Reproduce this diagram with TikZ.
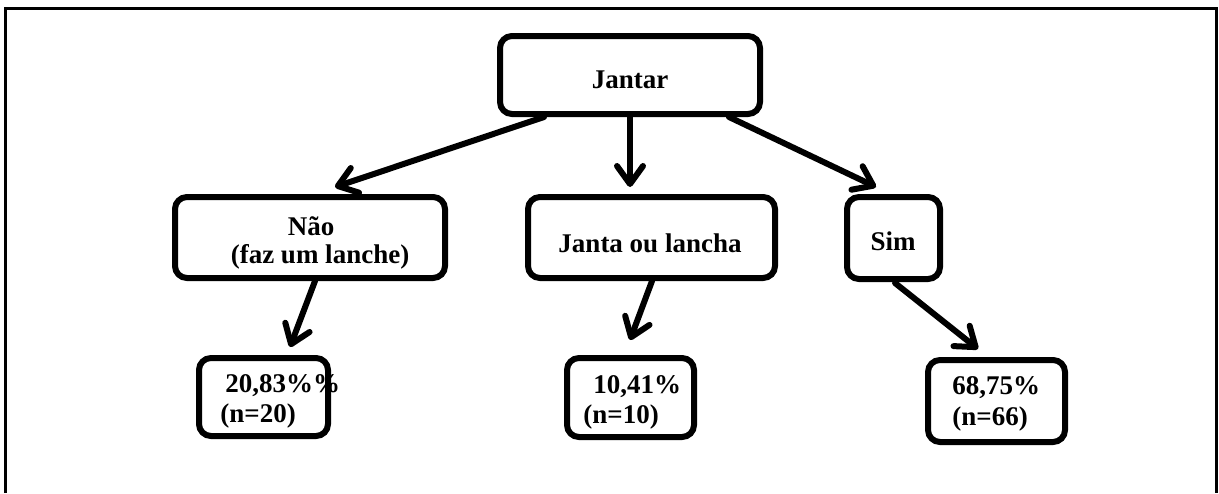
\documentclass[tikz,border=0pt]{standalone}
\usepackage{fontspec}
\setmainfont{Liberation Serif}
\usetikzlibrary{arrows.meta,fit,calc}
\begin{document}
\begin{tikzpicture}[x=0.5pt,y=-0.5pt,
  box/.style={draw, line width=3pt, rounded corners=6pt, inner sep=0pt},
  lbl/.style={font=\fontsize{13.5}{15}\selectfont\bfseries, inner sep=0pt, anchor=base},
  lblw/.style={lbl, anchor=base west},
  link/.style={line width=3pt, line cap=round,
    -{Straight Barb[length=9pt,width=13pt,round]}}]
\useasboundingbox (0,0) rectangle (1219,493);
% outer frame (open at the bottom)
\draw[line width=1.5pt] (5.5,493) -- (5.5,8.5) -- (1216.5,8.5) -- (1216.5,493);

% boxes
\node[box, fit={(500,36) (760,114)}] (jantar) {};
\node[box, fit={(175,197) (445,278)}] (nao) {};
\node[box, fit={(528,197) (775,278)}] (janta) {};
\node[box, fit={(847,197) (940,279)}] (sim) {};
\node[box, fit={(199,358) (328,436)}] (leafA) {};
\node[box, fit={(567,358) (694,437)}] (leafB) {};
\node[box, fit={(928,360) (1065,442)}] (leafC) {};

% labels
\node[lbl] (tjantar) at (630,88) {Jantar};
\node[lbl] (tnao) at (311,235) {Não};
\node[lbl] (tlanche) at (320,263) {(faz um lanche)};
\node[lbl] (tjanta) at (650,252) {Janta ou lancha};
\node[lbl] (tsim) at (893,250) {Sim};
\node[lblw] (pA) at (225,392) {20,83\%\%};
\node[lblw] (nA) at (220,422) {(n=20)};
\node[lblw] (pB) at (593,393) {10,41\%};
\node[lblw] (nB) at (583,423) {(n=10)};
\node[lblw] (pC) at (952,394) {68,75\%};
\node[lblw] (nC) at (952,425) {(n=66)};

% connectors
\draw[link] ($(jantar.south)+(-86,0)$) -- ($(nao.north)+(25,-7)$);
\draw[link] (jantar.south) -- ($(janta.north)+(-21.5,-7)$);
\draw[link] ($(jantar.south)+(99,0)$) -- ($(sim.north)+(-17.5,-7)$);
\draw[link] ($(nao.south)+(5,0)$) -- ($(leafA.north)+(26.5,-8)$);
\draw[link] ($(janta.south)+(0.5,0)$) -- ($(leafB.north)+(-0.5,-15)$);
\draw[link] ($(sim.south)+(1.5,1)$) -- ($(leafC.north)+(-18.5,-8)$);
\end{tikzpicture}
\end{document}
